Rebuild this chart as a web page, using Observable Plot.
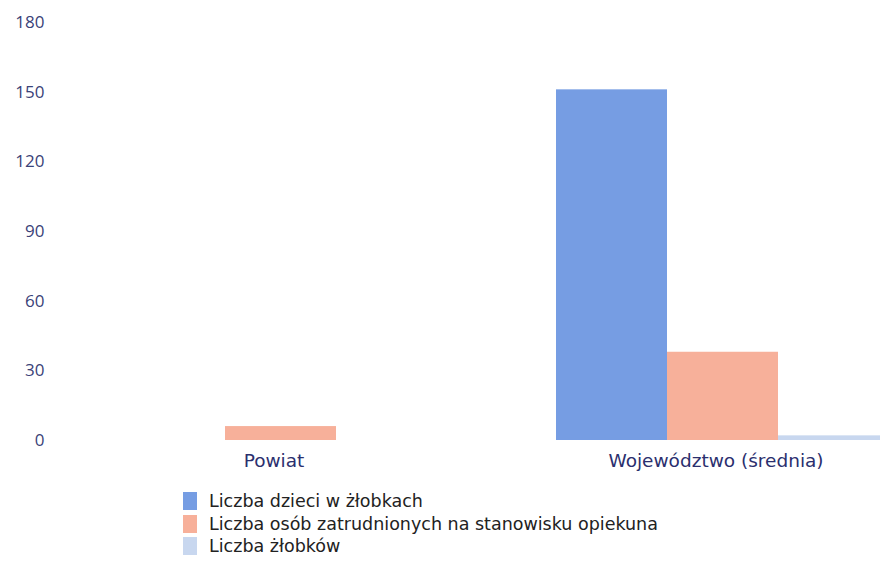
<!DOCTYPE html>
<html>
<head>
<meta charset="utf-8">
<script src="https://cdn.jsdelivr.net/npm/d3@7"></script>
<script src="https://cdn.jsdelivr.net/npm/@observablehq/plot@0.6"></script>
<style>
  html, body { margin: 0; padding: 0; background: #fff; }
  #chart { width: 880px; overflow: hidden; position: relative; }
  .legend { margin-left: 183px; margin-top: 12px; font-family: "DejaVu Sans", sans-serif; font-size: 17.5px; color: #222; }
  .legend div { display: flex; align-items: center; height: 22.5px; }
  .legend span.sw { display: inline-block; width: 14px; height: 18px; margin-right: 12px; }
</style>
</head>
<body>
<div id="chart"></div>
<script>
const groups = ["Powiat", "Województwo (średnia)"];
const seriesNames = ["Liczba dzieci w żłobkach", "Liczba osób zatrudnionych na stanowisku opiekuna", "Liczba żłobków"];
const childrenValues = [0, 151];
const staffValues = [6, 38];
const nurseryValues = [0, 2];
const yTicks = [0, 30, 60, 90, 120, 150, 180];
const colors = ["#769de3", "#f7b09a", "#c8d7ef"];

const rows = [];
groups.forEach((g, i) => {
  rows.push({group: g, series: seriesNames[0], value: childrenValues[i]});
  rows.push({group: g, series: seriesNames[1], value: staffValues[i]});
  rows.push({group: g, series: seriesNames[2], value: nurseryValues[i]});
});

const chart = Plot.plot({
  width: 880,
  height: 478,
  marginTop: 22,
  marginBottom: 38,
  marginLeft: 60,
  marginRight: 0,
  style: {fontFamily: "Open Sans, sans-serif", background: "#fff"},
  fx: {domain: groups, range: [59.5, 943.5], paddingInner: 0.2466, paddingOuter: 0.1233, label: null},
  x: {domain: seriesNames, padding: 0, axis: null},
  y: {domain: [0, 180], ticks: yTicks, label: null},
  color: {domain: seriesNames, range: colors},
  marks: [
    Plot.barY(rows, {fx: "group", x: "series", y: "value", fill: "series"}),
    Plot.axisY({ticks: yTicks, tickSize: 0, tickPadding: 0, dx: -70, fontSize: 17, fontWeight: 400, fill: "#3a4278", textAnchor: "end", label: null}),
    Plot.axisFx({anchor: "bottom", tickSize: 0, tickPadding: 13, dx: -7, fontSize: 18.5, fill: "#2b2f6e", fontFamily: "DejaVu Sans, sans-serif", label: null})
  ]
});
document.getElementById("chart").appendChild(chart);

const legend = document.createElement("div");
legend.className = "legend";
seriesNames.forEach((s, i) => {
  const row = document.createElement("div");
  const sw = document.createElement("span");
  sw.className = "sw";
  sw.style.background = colors[i];
  row.appendChild(sw);
  row.appendChild(document.createTextNode(s));
  legend.appendChild(row);
});
document.body.appendChild(legend);
</script>
</body>
</html>
